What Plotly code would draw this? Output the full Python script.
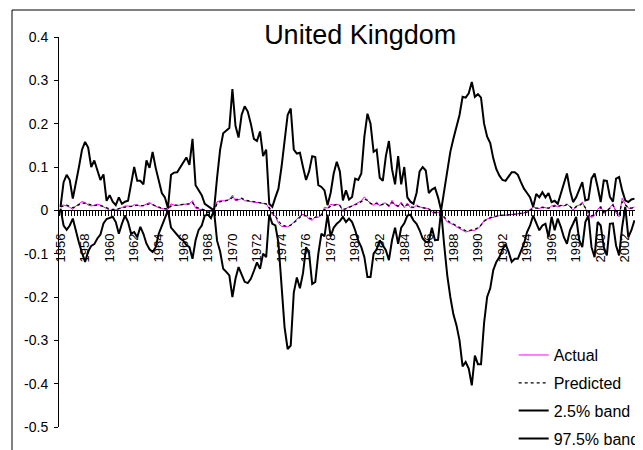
import plotly.graph_objects as go

# quarterly series, 1956Q1 .. 2002Q4
quarters = [f"{1956 + i // 4}Q{i % 4 + 1}" for i in range(188)]

actual = [
    0.012, 0.012, 0.010, 0.007, 0.002, 0.010, 0.015, 0.020, 0.018, 0.012,
    0.010, 0.012, 0.014, 0.012, 0.007, 0.004, 0.000, 0.000, 0.001, 0.003,
    0.006, 0.010, 0.010, 0.008, 0.013, 0.012, 0.010, 0.011, 0.014, 0.018,
    0.013, 0.009, 0.006, 0.004, 0.003, 0.002, 0.015, 0.012, 0.011, 0.013,
    0.014, 0.014, 0.015, 0.022, 0.005, 0.003, 0.002, 0.000, -0.002, -0.003,
    0.000, 0.020, 0.022, 0.022, 0.022, 0.025, 0.035, 0.022, 0.025, 0.027,
    0.022, 0.021, 0.020, 0.020, 0.018, 0.017, 0.017, 0.015, 0.004, -0.010,
    -0.013, -0.030, -0.037, -0.038, -0.038, -0.034, -0.028, -0.020, -0.013, -0.009,
    -0.012, -0.020, -0.023, -0.015, -0.016, -0.011, 0.007, 0.005, 0.014, 0.012,
    0.014, 0.012, -0.003, 0.004, 0.008, 0.010, 0.014, 0.018, 0.022, 0.031,
    0.024, 0.015, 0.012, 0.019, 0.010, 0.016, 0.017, 0.008, 0.023, 0.012,
    0.008, 0.019, 0.006, 0.017, 0.006, 0.006, 0.012, 0.008, 0.006, 0.005,
    0.004, -0.004, -0.007, -0.004, -0.008, -0.018, -0.027, -0.030, -0.033, -0.038,
    -0.043, -0.046, -0.050, -0.048, -0.046, -0.046, -0.042, -0.035, -0.023, -0.020,
    -0.018, -0.015, -0.013, -0.012, -0.012, -0.011, -0.010, -0.010, -0.009, -0.008,
    -0.008, -0.006, -0.004, 0.002, 0.008, 0.005, 0.004, 0.008, 0.006, 0.004,
    0.010, 0.012, 0.008, 0.012, 0.010, 0.015, 0.008, 0.000, 0.010, 0.012,
    0.019, 0.004, -0.010, -0.017, -0.012, 0.002, 0.010, -0.008, -0.002, 0.006,
    0.015, -0.006, -0.015, 0.028, 0.014, 0.005, 0.004, 0.008,
]

predicted = [
    0.008, 0.010, 0.012, 0.009, 0.006, 0.009, 0.013, 0.017, 0.016, 0.014,
    0.012, 0.011, 0.012, 0.011, 0.009, 0.006, 0.003, 0.002, 0.002, 0.004,
    0.006, 0.008, 0.009, 0.009, 0.011, 0.012, 0.011, 0.011, 0.013, 0.015,
    0.013, 0.010, 0.007, 0.005, 0.004, 0.003, 0.010, 0.012, 0.012, 0.013,
    0.014, 0.014, 0.015, 0.018, 0.008, 0.005, 0.003, 0.001, -0.005, -0.004,
    -0.001, 0.015, 0.020, 0.021, 0.022, 0.024, 0.030, 0.025, 0.025, 0.028,
    0.024, 0.022, 0.021, 0.020, 0.019, 0.018, 0.017, 0.015, 0.006, -0.005,
    -0.012, -0.025, -0.033, -0.036, -0.037, -0.034, -0.029, -0.022, -0.016, -0.012,
    -0.013, -0.018, -0.020, -0.016, -0.015, -0.010, 0.002, 0.004, 0.010, 0.012,
    0.013, 0.011, 0.002, 0.004, 0.007, 0.009, 0.013, 0.016, 0.020, 0.026,
    0.023, 0.016, 0.014, 0.016, 0.012, 0.014, 0.015, 0.011, 0.018, 0.013,
    0.010, 0.015, 0.009, 0.013, 0.008, 0.007, 0.010, 0.008, 0.006, 0.005,
    0.003, -0.002, -0.005, -0.004, -0.007, -0.015, -0.023, -0.028, -0.032, -0.036,
    -0.040, -0.044, -0.047, -0.047, -0.045, -0.044, -0.040, -0.034, -0.025, -0.020,
    -0.017, -0.015, -0.013, -0.012, -0.011, -0.011, -0.010, -0.010, -0.009, -0.008,
    -0.007, -0.006, -0.004, 0.000, 0.005, 0.005, 0.005, 0.007, 0.006, 0.005,
    0.008, 0.010, 0.009, 0.011, 0.010, 0.013, 0.009, 0.003, 0.008, 0.011,
    0.016, 0.006, -0.006, -0.013, -0.010, 0.000, 0.007, -0.004, -0.001, 0.005,
    0.012, -0.002, -0.010, 0.020, 0.013, 0.006, 0.005, 0.007,
]

band_2_5 = [
    0.008, 0.065, 0.082, 0.070, 0.027, 0.060, 0.100, 0.140, 0.158, 0.145,
    0.100, 0.115, 0.095, 0.070, 0.083, 0.022, 0.035, 0.020, 0.012, 0.030,
    0.015, 0.020, 0.022, 0.060, 0.100, 0.068, 0.068, 0.060, 0.115, 0.098,
    0.135, 0.098, 0.068, 0.040, 0.030, 0.005, 0.082, 0.087, 0.088, 0.100,
    0.112, 0.122, 0.105, 0.165, 0.058, 0.045, 0.035, 0.015, 0.010, 0.005,
    0.000, 0.075, 0.140, 0.178, 0.185, 0.190, 0.280, 0.195, 0.168, 0.220,
    0.240, 0.228, 0.200, 0.165, 0.160, 0.182, 0.125, 0.140, 0.015, 0.008,
    0.030, 0.050, 0.100, 0.160, 0.220, 0.235, 0.140, 0.131, 0.133, 0.100,
    0.070, 0.090, 0.125, 0.123, 0.058, 0.054, 0.046, 0.012, 0.040, 0.085,
    0.112, 0.090, 0.023, 0.046, 0.025, 0.031, 0.073, 0.070, 0.085, 0.170,
    0.223, 0.200, 0.135, 0.140, 0.075, 0.068, 0.125, 0.160, 0.095, 0.060,
    0.125, 0.060, 0.100, 0.030, 0.020, 0.015, 0.040, 0.090, 0.100, 0.092,
    0.040, 0.048, 0.052, 0.030, 0.000, 0.045, 0.090, 0.135, 0.165, 0.190,
    0.220, 0.262, 0.260, 0.270, 0.296, 0.262, 0.268, 0.260, 0.200, 0.170,
    0.155, 0.120, 0.095, 0.080, 0.070, 0.068, 0.078, 0.088, 0.088, 0.082,
    0.065, 0.050, 0.040, 0.030, 0.008, 0.038, 0.030, 0.042, 0.030, 0.040,
    0.019, 0.022, 0.015, 0.038, 0.065, 0.085, 0.046, 0.019, 0.030, 0.050,
    0.065, 0.023, 0.025, 0.073, 0.085, 0.054, 0.019, 0.069, 0.068, 0.031,
    0.020, 0.073, 0.077, 0.046, 0.023, 0.019, 0.025, 0.027,
]

band_97_5 = [
    0.004, -0.035, -0.045, -0.035, -0.019, -0.048, -0.075, -0.098, -0.119, -0.095,
    -0.082, -0.078, -0.065, -0.056, -0.030, -0.020, -0.017, -0.015, -0.027, -0.054,
    -0.031, -0.012, -0.027, -0.054, -0.050, -0.062, -0.038, -0.054, -0.077, -0.090,
    -0.096, -0.085, -0.054, -0.035, -0.019, 0.000, -0.040, -0.048, -0.058, -0.065,
    -0.070, -0.080, -0.085, -0.112, -0.069, -0.045, -0.035, -0.012, -0.010, -0.018,
    0.000, -0.070, -0.095, -0.135, -0.142, -0.150, -0.200, -0.158, -0.131, -0.150,
    -0.165, -0.168, -0.158, -0.140, -0.120, -0.135, -0.100, -0.108, -0.010, -0.031,
    -0.035, -0.075, -0.170, -0.270, -0.320, -0.312, -0.190, -0.155, -0.180, -0.145,
    -0.085, -0.100, -0.170, -0.165, -0.100, -0.054, -0.060, -0.010, -0.060, -0.040,
    -0.031, -0.025, -0.015, -0.027, -0.019, -0.027, -0.046, -0.070, -0.085, -0.108,
    -0.154, -0.154, -0.100, -0.090, -0.069, -0.080, -0.092, -0.115, -0.069, -0.040,
    -0.077, -0.040, -0.030, -0.012, -0.010, -0.023, -0.031, -0.046, -0.065, -0.073,
    -0.072, -0.040, -0.069, -0.068, 0.000, -0.080, -0.150, -0.200, -0.240, -0.265,
    -0.300, -0.360, -0.350, -0.365, -0.404, -0.335, -0.355, -0.355, -0.260, -0.200,
    -0.180, -0.138, -0.119, -0.108, -0.090, -0.078, -0.096, -0.119, -0.112, -0.112,
    -0.096, -0.077, -0.050, -0.035, -0.012, -0.027, -0.046, -0.035, -0.031, -0.062,
    -0.015, -0.046, -0.019, -0.038, -0.062, -0.077, -0.046, -0.031, -0.015, -0.069,
    -0.085, -0.027, -0.012, -0.085, -0.108, -0.027, -0.035, -0.085, -0.104, -0.031,
    -0.030, -0.081, -0.104, -0.038, 0.008, -0.062, -0.046, -0.023,
]

year_ticks = list(range(0, 188, 8))
year_labels = [str(1956 + i // 4) for i in year_ticks]
y_ticks = [0.4, 0.3, 0.2, 0.1, 0, -0.1, -0.2, -0.3, -0.4, -0.5]
y_labels = ["0.4", "0.3", "0.2", "0.1", "0", "-0.1", "-0.2", "-0.3", "-0.4", "-0.5"]

x = list(range(len(quarters)))
FONT = "Liberation Sans, Arial, sans-serif"

fig = go.Figure()
fig.add_trace(go.Scatter(x=x, y=actual, name="Actual", mode="lines", legendgroup="a",
                         line=dict(color="#FF00FF", width=1), text=quarters))
fig.add_trace(go.Scatter(x=x, y=predicted, name="Predicted", mode="lines", legendgroup="p",
                         line=dict(color="black", width=1.3, dash="dot"), text=quarters))
fig.add_trace(go.Scatter(x=x, y=band_2_5, name="2.5% band", mode="lines", legendgroup="l",
                         line=dict(color="black", width=2), text=quarters))
fig.add_trace(go.Scatter(x=x, y=band_97_5, name="97.5% band", mode="lines", legendgroup="u",
                         line=dict(color="black", width=2), text=quarters))

# the page body adds 8px, so plot area 59..636 x 37..427 on screen -> 51..628 x 29..419
fig.update_layout(
    width=643, height=450,
    margin=dict(l=51, r=15, t=29, b=31, autoexpand=False),
    paper_bgcolor="white", plot_bgcolor="white",
    font=dict(family=FONT, color="black"),
    title=dict(text="United Kingdom", font=dict(size=27, color="black"),
               xref="paper", x=0.522, xanchor="center",
               yref="container", y=0.94, yanchor="middle"),
    legend=dict(x=0.788, y=0.228, xanchor="left", yanchor="top",
                font=dict(size=16), bgcolor="rgba(0,0,0,0)",
                tracegroupgap=4, itemwidth=30),
    showlegend=True,
    shapes=[dict(type="rect", xref="paper", yref="paper",
                 x0=(4 - 51) / 577, x1=1.5, y0=-0.5, y1=(419 - 2) / 390,
                 line=dict(color="black", width=1), layer="below")],
)

fig.update_xaxes(
    range=[-0.5, 187.5], anchor="free", position=0.5 / 0.9,
    showline=True, linecolor="black", linewidth=1,
    showgrid=False, zeroline=False,
    tickmode="array", tickvals=year_ticks, ticktext=year_labels,
    tickangle=-90, tickfont=dict(size=13), ticks="",
    ticklabelstandoff=17,
    minor=dict(tick0=-0.5, dtick=1, ticks="outside", ticklen=5,
               tickcolor="black", tickwidth=1, showgrid=False),
    automargin=False,
)
fig.update_yaxes(
    range=[-0.5, 0.4], showline=True, linecolor="black", linewidth=1,
    showgrid=False, zeroline=False,
    tickmode="array", tickvals=y_ticks, ticktext=y_labels,
    ticks="outside", ticklen=4, tickcolor="black",
    tickfont=dict(size=14), ticklabelstandoff=3, automargin=False,
)

fig.write_html("out.html")
